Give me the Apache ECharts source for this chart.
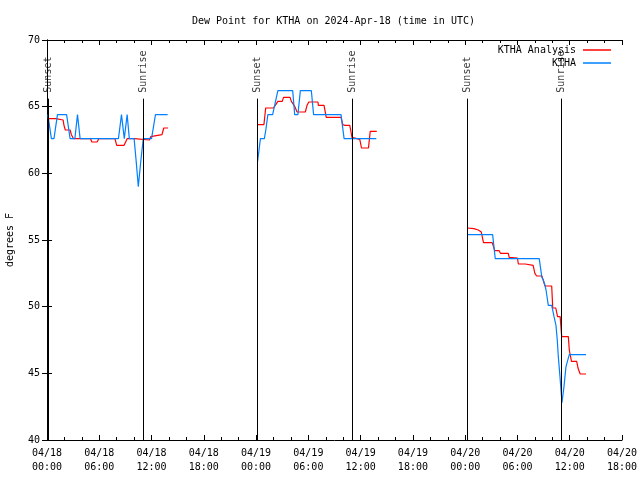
<!DOCTYPE html>
<html>
<head>
<meta charset="utf-8">
<script src="https://cdn.jsdelivr.net/npm/echarts@6/dist/echarts.min.js"></script>
<style>html,body{margin:0;padding:0;background:#fff}#c{width:640px;height:480px}</style>
</head>
<body>
<div id="c"></div>
<script>
// Hours since 04/18 00:00 UTC
const xTickLabels = ['04/18\n00:00','04/18\n06:00','04/18\n12:00','04/18\n18:00','04/19\n00:00','04/19\n06:00','04/19\n12:00','04/19\n18:00','04/20\n00:00','04/20\n06:00','04/20\n12:00','04/20\n18:00'];
const sunHours = [0.12, 11.02, 24.17, 35.02, 48.27, 59.06];
const sunNames = ['Sunset','Sunrise','Sunset','Sunrise','Sunset','Sunrise'];

// KTHA Analysis (red)
const anaT1 = [0.1,1.0,1.05,1.85,1.95,2.1,2.65,2.8,3.05,5.0,5.15,5.75,5.95,7.8,8.0,8.85,9.2,10.05,10.15,11.75,11.9,12.05,13.2,13.4,13.9];
const anaV1 = [64.1,64.1,64.0,64.0,63.6,63.25,63.25,62.9,62.6,62.6,62.35,62.35,62.6,62.6,62.1,62.1,62.6,62.6,62.5,62.5,62.75,62.9,62.9,63.4,63.4];
const anaT2 = [24.17,24.9,25.1,26.0,26.2,26.5,27.0,27.15,27.9,28.05,28.25,28.45,28.7,29.65,29.85,30.05,31.1,31.15,31.8,32.05,33.75,33.95,34.2,34.75,34.9,35.0,35.2,35.9,36.1,36.9,37.1,37.85];
const anaV2 = [63.65,63.65,64.9,64.9,65.1,65.4,65.4,65.7,65.7,65.4,65.4,65.0,64.6,64.6,65.1,65.35,65.35,65.1,65.1,64.2,64.2,63.65,63.6,63.6,63.1,62.7,62.55,62.55,61.9,61.9,63.15,63.15];
const anaT3 = [48.27,49.0,49.5,49.85,50.0,50.1,51.1,51.25,51.4,51.9,52.05,52.95,53.05,54.0,54.1,54.9,54.95,55.8,56.0,56.2,56.8,57.0,57.16,57.93,58.05,58.4,58.6,58.9,59.08,59.84,59.95,60.1,60.2,60.8,60.95,61.2,61.87];
const anaV3 = [55.9,55.85,55.75,55.6,55.5,54.8,54.8,54.5,54.2,54.2,54.0,54.0,53.7,53.65,53.2,53.2,53.1,53.1,52.5,52.3,52.3,51.9,51.55,51.55,49.9,49.9,49.25,49.25,47.75,47.75,46.75,46.75,45.9,45.9,45.4,44.95,44.95];

// KTHA observations (blue)
const obsT1 = [0.1,0.5,0.8,1.2,2.25,2.65,3.2,3.5,3.8,8.2,8.55,8.87,9.2,9.45,10.0,10.25,10.48,10.75,11.05,12.0,12.45,13.85];
const obsV1 = [64.4,62.6,62.6,64.4,64.4,62.6,62.6,64.4,62.6,62.6,64.4,62.6,64.4,62.6,62.6,60.8,59.0,60.8,62.6,62.6,64.4,64.4];
const obsT2 = [24.17,24.5,24.95,25.15,25.35,25.9,26.2,26.5,28.2,28.43,28.8,29.08,30.34,30.6,33.75,34.1,37.8];
const obsV2 = [60.9,62.6,62.6,63.4,64.4,64.4,65.3,66.2,66.2,64.4,64.4,66.2,66.2,64.4,64.4,62.6,62.6];
const obsT3 = [48.27,51.15,51.45,56.5,56.8,56.97,57.16,57.28,57.54,57.93,58.2,58.42,58.57,58.69,58.88,59.11,59.34,59.57,59.95,61.87];
const obsV3 = [55.4,55.4,53.6,53.6,52.2,52.0,51.6,51.25,50.1,50.1,49.25,48.6,47.5,46.25,44.75,42.8,44.0,45.5,46.4,46.4];

const FONT = 'DejaVu Sans Mono';
const zip = (t, v) => t.map((x, i) => [x, v[i]]);
const RED = '#ff0000', BLUE = '#0080ff';

function lineSeries(name, color, t, v) {
  return { name, type: 'line', data: zip(t, v), showSymbol: false, symbol: 'none',
    lineStyle: { color, width: 1.2 }, itemStyle: { color }, animation: false,
    xAxisIndex: 0, yAxisIndex: 0 };
}

const series = [
  lineSeries('KTHA Analysis', RED, anaT1, anaV1),
  lineSeries('KTHA Analysis', RED, anaT2, anaV2),
  lineSeries('KTHA Analysis', RED, anaT3, anaV3),
  lineSeries('KTHA', BLUE, obsT1, obsV1),
  lineSeries('KTHA', BLUE, obsT2, obsV2),
  lineSeries('KTHA', BLUE, obsT3, obsV3),
  { type: 'line', data: [], silent: true, animation: false,
    markLine: { symbol: 'none', silent: true, animation: false,
      label: { show: false },
      lineStyle: { color: '#000', width: 1, type: 'solid' },
      data: sunHours.map(h => [{ coord: [h, 40] }, { coord: [h, 65.6] }]) } },
  { type: 'scatter', data: sunHours.map((h, i) => ({ value: [h, 65.6], name: sunNames[i] })),
    symbolSize: 0, silent: true, animation: false,
    label: { show: true, formatter: p => p.name, rotate: 90, position: 'top', distance: 6,
      align: 'left', verticalAlign: 'middle', fontFamily: FONT, fontSize: 10, color: '#000' } }
];

const axisCommon = {
  axisLine: { show: true, lineStyle: { color: '#000', width: 1 } },
  splitLine: { show: false }
};

const legendCommon = { orient: 'vertical', align: 'right', right: 24,
  itemWidth: 28, itemHeight: 1.5, icon: 'rect', itemGap: 2,
  textStyle: { fontFamily: FONT, fontSize: 10, color: '#000', padding: [0, 2, 0, 0] } };

const chart = echarts.init(document.getElementById('c'), null, { renderer: 'canvas' });
chart.setOption({
  animation: false,
  backgroundColor: '#fff',
  title: { text: 'Dew Point for KTHA on 2024-Apr-18 (time in UTC)', left: 187, top: 11,
    textStyle: { fontFamily: FONT, fontSize: 10, fontWeight: 'normal', color: '#000' } },
  legend: [
    Object.assign({ data: ['KTHA Analysis'], top: 40 }, legendCommon),
    Object.assign({ data: ['KTHA'], top: 53 }, legendCommon)
  ],
  grid: { left: 47, right: 18, top: 40, bottom: 40, show: false, containLabel: false, outerBoundsMode: 'none' },
  xAxis: [
    Object.assign({ type: 'value', position: 'bottom', min: 0, max: 66, interval: 6,
      axisTick: { show: true, inside: true, length: 5, lineStyle: { color: '#000' } },
      minorTick: { show: true, splitNumber: 3, length: 3, lineStyle: { color: '#000' } },
      axisLabel: { formatter: v => xTickLabels[Math.round(v / 6)] || '', fontFamily: FONT, fontSize: 10,
        color: '#000', margin: 6, lineHeight: 14 } }, axisCommon),
    Object.assign({ type: 'value', position: 'top', min: 0, max: 66, interval: 6,
      axisTick: { show: true, inside: true, length: 5, lineStyle: { color: '#000' } },
      minorTick: { show: true, splitNumber: 3, length: 3, lineStyle: { color: '#000' } },
      axisLabel: { show: false } }, axisCommon)
  ],
  yAxis: [
    Object.assign({ type: 'value', position: 'left', min: 40, max: 70, interval: 5,
      name: 'degrees F', nameLocation: 'middle', nameGap: 32, nameRotate: 90,
      nameTextStyle: { fontFamily: FONT, fontSize: 10, color: '#000' },
      axisTick: { show: true, inside: true, length: 5, lineStyle: { color: '#000' } },
      axisLabel: { fontFamily: FONT, fontSize: 10, color: '#000', margin: 7 } }, axisCommon),
    Object.assign({ type: 'value', position: 'right', min: 40, max: 70, interval: 5,
      axisTick: { show: true, inside: true, length: 5, lineStyle: { color: '#000' } },
      axisLabel: { show: false } }, axisCommon)
  ],
  series
});
</script>
</body>
</html>
